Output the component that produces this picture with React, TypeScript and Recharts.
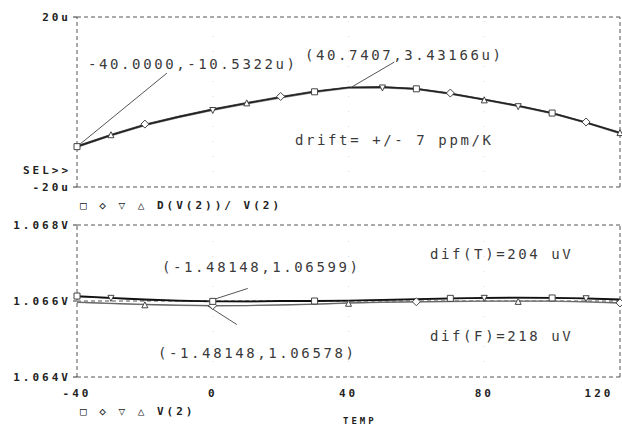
import * as React from 'react';
import { LineChart, Line, XAxis, YAxis, CartesianGrid, ReferenceLine } from 'recharts';

// temperature sweep, degC
const temps = [-40, -30, -20, -10, 0, 10, 20, 30, 40, 50, 60, 70, 80, 90, 100, 110, 120];

// top panel: D(V(2))/V(2), in micro (u)
const driftA = [-10.5, -7.8, -5.4, -3.5, -1.8, -0.3, 1.1, 2.4, 3.4, 3.5, 3.1, 2.0, 0.6, -0.9, -2.6, -4.8, -7.3];
const driftB = [-10.3, -7.6, -5.2, -3.3, -1.6, -0.1, 1.3, 2.6, 3.5, 3.6, 3.2, 2.1, 0.7, -0.8, -2.5, -4.7, -7.1];
const driftC = [-10.7, -8.0, -5.6, -3.7, -2.0, -0.5, 0.9, 2.2, 3.2, 3.3, 2.9, 1.8, 0.4, -1.1, -2.8, -5.0, -7.5];
const driftD = [-10.4, -7.7, -5.3, -3.4, -1.7, -0.2, 1.2, 2.5, 3.4, 3.5, 3.0, 1.9, 0.5, -1.0, -2.7, -4.9, -7.2];

// bottom panel: V(2), volts
const vT1 = [1.06613, 1.06608, 1.06604, 1.06601, 1.06599, 1.06599, 1.066, 1.066, 1.06601, 1.06603, 1.06605, 1.06607, 1.06608, 1.06609, 1.06608, 1.06607, 1.06604];
const vT2 = [1.06611, 1.06607, 1.06603, 1.066, 1.06599, 1.06598, 1.06599, 1.066, 1.06601, 1.06602, 1.06604, 1.06606, 1.06607, 1.06608, 1.06608, 1.06606, 1.06603];
const vF1 = [1.06597, 1.06594, 1.06591, 1.06589, 1.06588, 1.06588, 1.0659, 1.06592, 1.06595, 1.06597, 1.06598, 1.06599, 1.066, 1.066, 1.066, 1.06598, 1.06595];
const vF2 = [1.06596, 1.06593, 1.0659, 1.06588, 1.06587, 1.06588, 1.06589, 1.06591, 1.06594, 1.06596, 1.06597, 1.06598, 1.06599, 1.06599, 1.06599, 1.06597, 1.06594];

const xTicks = [-40, 0, 40, 80, 120];

const topData = temps.map((t, i) => ({ t, a: driftA[i], b: driftB[i], c: driftC[i], d: driftD[i] }));
const botData = temps.map((t, i) => ({ t, a: vT1[i], b: vT2[i], c: vF1[i], d: vF2[i] }));

const axisFont = { fontFamily: 'DejaVu Sans Mono', fontWeight: 700, fontSize: 11, fill: '#222', letterSpacing: 3 };
const noteStyle: React.CSSProperties = {
  position: 'absolute',
  fontFamily: 'DejaVu Sans Mono',
  fontSize: 14,
  lineHeight: '14px',
  letterSpacing: 2.6,
  color: '#3a3a3a',
  whiteSpace: 'pre',
};
const boldStyle: React.CSSProperties = {
  position: 'absolute',
  fontFamily: 'DejaVu Sans Mono',
  fontWeight: 700,
  fontSize: 11,
  lineHeight: '11px',
  letterSpacing: 3,
  color: '#222',
  whiteSpace: 'pre',
};

const marker = (shape: string, at: number[]) => (props: any) => {
  const { cx, cy, index } = props;
  if (!at.includes(index) || cx == null || cy == null) return <g key={`m${index}`} />;
  const s = 3;
  let d = '';
  if (shape === 'sq') d = `M${cx - s},${cy - s}h${2 * s}v${2 * s}h${-2 * s}z`;
  if (shape === 'di') d = `M${cx},${cy - s - 1}l${s + 1},${s + 1}l${-s - 1},${s + 1}l${-s - 1},${-s - 1}z`;
  if (shape === 'dn') d = `M${cx - s},${cy - s}h${2 * s}l${-s},${2 * s}z`;
  if (shape === 'up') d = `M${cx - s},${cy + s}h${2 * s}l${-s},${-2 * s}z`;
  return <path key={`m${index}`} d={d} fill="#fff" stroke="#444" strokeWidth={1} />;
};

const Note = ({ x, y, children }: { x: number; y: number; children: React.ReactNode }) => (
  <div style={{ ...noteStyle, left: x, top: y - 7 }}>{children}</div>
);
const Bold = ({ x, y, size = 11, children }: { x: number; y: number; size?: number; children: React.ReactNode }) => (
  <div style={{ ...boldStyle, fontSize: size, lineHeight: `${size}px`, left: x, top: y - size / 2 }}>{children}</div>
);

const XTick = (props: any) => {
  const { x, y, payload } = props;
  const dx = payload.value === 120 ? -11 : 0;
  return (
    <text x={x + dx} y={y + 12} textAnchor="middle" {...axisFont}>
      {payload.value}
    </text>
  );
};

const border = { stroke: '#555', strokeDasharray: '4 3', strokeWidth: 1 };
const faint = { stroke: '#d8d8d8', strokeDasharray: '1 14', strokeWidth: 1 };

export default function App() {
  return (
    <div style={{ position: 'absolute', left: 0, top: 0, width: 622, height: 434, background: '#fff', overflow: 'hidden' }}>
      <div style={{ position: 'absolute', left: 0, top: 0 }}>
        <LineChart width={622} height={200} data={topData} margin={{ top: 17, right: 2, bottom: 13, left: 0 }}>
          <CartesianGrid vertical={false} {...border} />
          <XAxis dataKey="t" type="number" domain={[-40, 120]} ticks={xTicks} hide />
          <YAxis
            type="number"
            domain={[-20, 20]}
            ticks={[-20, 20]}
            width={77}
            axisLine={false}
            tickSize={4}
            tickMargin={2}
            tickLine={{ stroke: '#333' }}
            tick={axisFont}
            tickFormatter={(v: number) => `${v}u`}
          />
          <ReferenceLine x={-40} {...border} />
          <ReferenceLine x={120} {...border} />
          {[0, 40, 80].map((v) => (
            <ReferenceLine key={v} x={v} {...faint} />
          ))}
          <Line dataKey="c" stroke="#999" strokeWidth={1} isAnimationActive={false} dot={marker('dn', [4, 9, 13])} />
          <Line dataKey="b" stroke="#777" strokeWidth={1} isAnimationActive={false} dot={marker('di', [2, 6, 11, 15])} />
          <Line dataKey="d" stroke="#555" strokeWidth={1} isAnimationActive={false} dot={marker('up', [1, 5, 12, 16])} />
          <Line dataKey="a" stroke="#222" strokeWidth={1.6} isAnimationActive={false} dot={marker('sq', [0, 7, 10, 14])} />
          <ReferenceLine segment={[{ x: -40, y: -10.5 }, { x: -13.5, y: 6.8 }]} stroke="#555" />
          <ReferenceLine segment={[{ x: 40.74, y: 3.43 }, { x: 53.5, y: 9.4 }]} stroke="#555" />
        </LineChart>
      </div>
      <div style={{ position: 'absolute', left: 0, top: 200 }}>
        <LineChart width={622} height={234} data={botData} margin={{ top: 25, right: 2, bottom: 37, left: 0 }}>
          <CartesianGrid vertical={false} {...border} />
          <XAxis
            dataKey="t"
            type="number"
            domain={[-40, 120]}
            ticks={xTicks}
            height={20}
            axisLine={false}
            tickLine={false}
            tick={<XTick />}
          />
          <YAxis
            type="number"
            domain={[1.064, 1.068]}
            ticks={[1.064, 1.066, 1.068]}
            allowDataOverflow
            width={77}
            axisLine={false}
            tickSize={4}
            tickMargin={2}
            tickLine={{ stroke: '#333' }}
            tick={axisFont}
            tickFormatter={(v: number) => `${v.toFixed(3)}V`}
          />
          <ReferenceLine x={-40} {...border} />
          <ReferenceLine x={120} {...border} />
          {[0, 40, 80].map((v) => (
            <ReferenceLine key={v} x={v} {...faint} />
          ))}
          <Line dataKey="d" stroke="#999" strokeWidth={1} isAnimationActive={false} dot={marker('up', [2, 8, 13])} />
          <Line dataKey="c" stroke="#666" strokeWidth={1.2} isAnimationActive={false} dot={marker('di', [4, 10, 16])} />
          <Line dataKey="b" stroke="#555" strokeWidth={1} isAnimationActive={false} dot={marker('dn', [1, 12, 15])} />
          <Line dataKey="a" stroke="#111" strokeWidth={1.8} isAnimationActive={false} dot={marker('sq', [0, 4, 7, 11, 14])} />
          <ReferenceLine segment={[{ x: -1.48, y: 1.06599 }, { x: 10.3, y: 1.06633 }]} stroke="#555" />
          <ReferenceLine segment={[{ x: -1.48, y: 1.06587 }, { x: 7.1, y: 1.06538 }]} stroke="#555" />
        </LineChart>
      </div>

      <Note x={88} y={64}>-40.0000,-10.5322u)</Note>
      <Note x={305} y={55}>(40.7407,3.43166u)</Note>
      <Note x={295} y={140}>drift= +/- 7 ppm/K</Note>
      <Note x={162} y={267}>(-1.48148,1.06599)</Note>
      <Note x={158} y={353}>(-1.48148,1.06578)</Note>
      <Note x={430} y={254}>dif(T)=204 uV</Note>
      <Note x={430} y={336}>dif(F)=218 uV</Note>

      <Bold x={23} y={170}>SEL&gt;&gt;</Bold>
      <Bold x={80} y={205}>□ ◇ ▽ △ D(V(2))/ V(2)</Bold>
      <Bold x={80} y={411}>□ ◇ ▽ △ V(2)</Bold>
      <Bold x={343} y={421} size={9}>TEMP</Bold>
    </div>
  );
}
